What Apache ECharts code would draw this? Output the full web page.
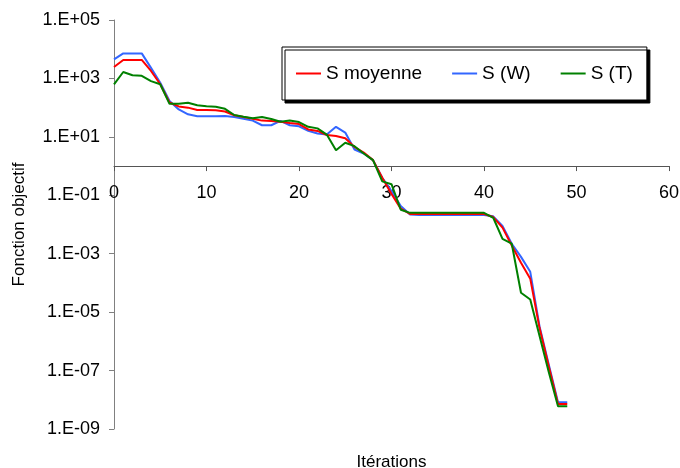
<!DOCTYPE html>
<html>
<head>
<meta charset="utf-8">
<script src="https://cdn.jsdelivr.net/npm/echarts@6/dist/echarts.min.js"></script>
<style>
html,body{margin:0;padding:0;background:#fff;}
#c{width:680px;height:468px;}
</style>
</head>
<body>
<div id="c"></div>
<script>
var iterations = [0,1,2,3,4,5,6,7,8,9,10,11,12,13,14,15,16,17,18,19,20,21,22,23,24,25,26,27,28,29,30,31,32,33,34,35,36,37,38,39,40,41,42,43,44,45,46,47,48,49];

var sMoyenne = [2450,4300,4300,4300,1800,630,150,110,100,83,83,81,74,55,48,42,36,35,33,30,27.5,18,16,11.5,10.7,8.9,4.5,2.9,1.6,0.40,0.11,0.035,0.023,0.023,0.023,0.023,0.023,0.023,0.023,0.023,0.023,0.018,0.0078,0.0019,4.9e-4,1.4e-4,2.9e-6,1.4e-7,7.2e-9,7.2e-9];

var sW = [4500,7200,7200,7200,2300,710,170,87,59,51,51,51,52,48,42,36,25,25,35,25,23,16,13,12,22,14,3.7,2.7,1.6,0.40,0.14,0.043,0.022,0.021,0.021,0.021,0.021,0.021,0.021,0.021,0.021,0.019,0.0089,0.0022,7.8e-4,2.4e-4,3.3e-6,1.6e-7,8.3e-9,8.3e-9];

var sT = [630,1660,1290,1230,810,630,135,135,148,120,112,107,91,56,49,43,48,41,33,36,32,22,19.5,12,3.5,6.3,4.8,2.7,1.6,0.30,0.24,0.032,0.025,0.025,0.025,0.025,0.025,0.025,0.025,0.025,0.025,0.017,0.0032,0.0022,4.6e-5,2.7e-5,1.55e-6,8.9e-8,6.0e-9,6.0e-9];

var seriesNames = ['S moyenne','S (W)','S (T)'];
var xTitle = 'Itérations';
var yTitle = 'Fonction objectif';

function pairs(arr){ return arr.map(function(v,i){ return [iterations[i], v]; }); }

var gridTop = 20, gridBottom = 39, chartH = 468;
var gridH = chartH - gridTop - gridBottom;
var yMinExp = -9, yMaxExp = 5;
var crossOffset = -gridH * (0 - yMinExp) / (yMaxExp - yMinExp);

var font = 'Liberation Sans, Arial, sans-serif';
var chart = echarts.init(document.getElementById('c'), null, {renderer:'canvas'});
chart.setOption({
  animation: false,
  backgroundColor: '#ffffff',
  grid: {left:114, right:11, top:gridTop, bottom:gridBottom, outerBoundsMode:'none', containLabel:false},
  legend: {
    data: seriesNames,
    left: 282, top: 47,
    padding: [17, 14, 17, 14],
    itemGap: 30,
    itemWidth: 25, itemHeight: 2,
    icon: 'rect',
    borderColor: '#000', borderWidth: 1,
    backgroundColor: '#fff',
    shadowColor: '#000', shadowBlur: 0, shadowOffsetX: 3, shadowOffsetY: 3,
    textStyle: {fontFamily: font, fontSize: 19, color: '#000'}
  },
  xAxis: {
    type: 'value', min: 0, max: 60, interval: 10,
    position: 'bottom', offset: crossOffset,
    name: xTitle, nameLocation: 'middle', nameGap: 288,
    nameTextStyle: {fontFamily: font, fontSize: 17, color: '#000'},
    axisLine: {show: true, onZero: false, lineStyle: {color: '#555', width: 1}},
    axisTick: {show: true, inside: false, length: 5, lineStyle: {color: '#555'}},
    axisLabel: {fontFamily: font, fontSize: 18, color: '#000', margin: 18},
    splitLine: {show: false}
  },
  yAxis: {
    type: 'log', logBase: 10, min: 1e-9, max: 1e5, interval: 2,
    name: yTitle, nameLocation: 'middle', nameGap: 86, nameRotate: 90,
    nameTextStyle: {fontFamily: font, fontSize: 17, color: '#000'},
    axisLine: {show: true, lineStyle: {color: '#808080', width: 1}},
    axisTick: {show: true, inside: false, length: 5, lineStyle: {color: '#808080'}},
    axisLabel: {fontFamily: font, fontSize: 18, color: '#000', margin: 14,
      formatter: function(v){
        var e = Math.round(Math.log10(v));
        var a = Math.abs(e);
        return '1.E' + (e < 0 ? '-' : '+') + (a < 10 ? '0' + a : '' + a);
      }},
    splitLine: {show: false},
    minorTick: {show: false}
  },
  series: [
    {name: seriesNames[0], type: 'line', data: pairs(sMoyenne), symbol: 'none', lineStyle: {color: '#FF0000', width: 2}, itemStyle: {color: '#FF0000'}, z: 3},
    {name: seriesNames[1], type: 'line', data: pairs(sW), symbol: 'none', lineStyle: {color: '#3366FF', width: 2}, itemStyle: {color: '#3366FF'}, z: 2},
    {name: seriesNames[2], type: 'line', data: pairs(sT), symbol: 'none', lineStyle: {color: '#008000', width: 2}, itemStyle: {color: '#008000'}, z: 4}
  ]
});
</script>
</body>
</html>
